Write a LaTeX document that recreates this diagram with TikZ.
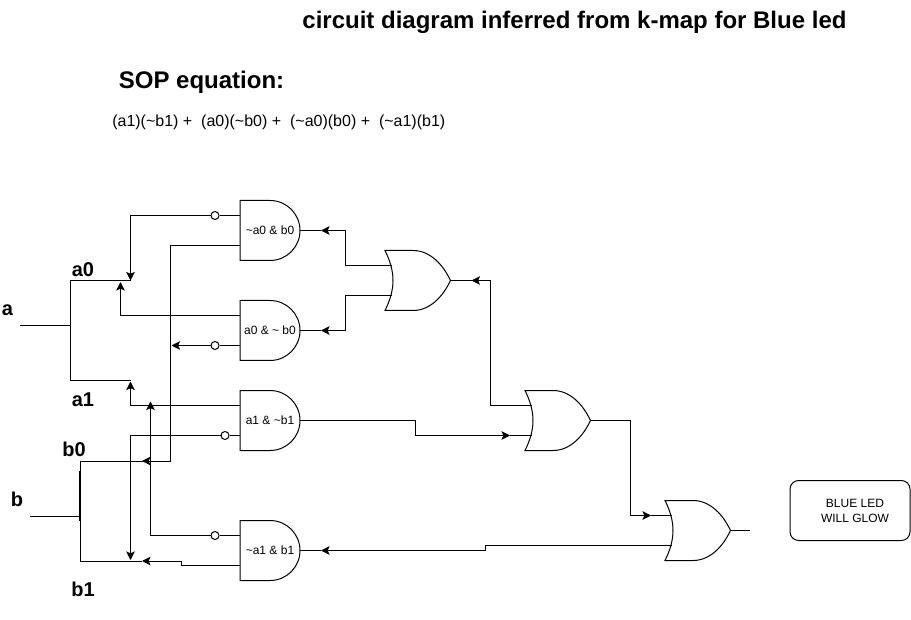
\documentclass[tikz,border=0pt]{standalone}
\usepackage{fontspec}
\setmainfont{Liberation Sans}
\usetikzlibrary{arrows.meta}
\tikzset{
  x=0.75pt,y=-0.75pt,
  wire/.style={draw=black,line width=0.75pt,line join=miter},
  arr/.style={wire,-{Stealth[length=6.4pt,width=6.4pt,inset=1.4pt]}},
  gatebody/.style={draw=black,line width=0.75pt,fill=white},
  bubble/.style={circle,draw=black,line width=0.75pt,fill=white,minimum size=6pt,inner sep=0pt},
  gatetext/.style={font=\fontsize{9pt}{10pt}\selectfont,inner sep=0pt},
  lbl/.style={font=\fontsize{15pt}{18pt}\selectfont\bfseries,inner sep=0pt},
  led/.style={draw=black,line width=0.75pt,rounded corners=6.5pt,minimum width=90pt,minimum height=45pt,inner sep=0pt}
}
% AND gate: name, left x, top y, text
\newcommand{\andgate}[4]{%
  \path[gatebody] (#2,#3) -- ++(30,0) .. controls +(16.6,0) and +(0,-16.6) .. ++(30,30)
    .. controls +(0,16.6) and +(16.6,0) .. ++(-30,30) -- ++(-30,0) -- cycle;
  \node[gatetext] (#1) at (#2+30,#3+30) {#4};
  \coordinate (#1-a) at (#2,#3+15);
  \coordinate (#1-b) at (#2,#3+45);
  \coordinate (#1-o) at (#2+60,#3+30);
}
% OR gate: name, left x, top y
\newcommand{\orgate}[3]{%
  \path[gatebody] (#2,#3) -- ++(28,0) .. controls +(17,0) and +(-7.5,-16) .. ++(37.5,30)
    .. controls +(-7.5,16) and +(17,0) .. ++(-37.5,30) -- ++(-28,0)
    .. controls +(5,-10) and +(0,10) .. ++(8,-30) .. controls +(0,-10) and +(5,10) .. ++(-8,-30) -- cycle;
  \coordinate (#1-a) at (#2+7,#3+15);
  \coordinate (#1-b) at (#2+7,#3+45);
  \coordinate (#1-o) at (#2+65.5,#3+30);
}
\begin{document}
\begin{tikzpicture}
\useasboundingbox (0,-0.5) rectangle (911,619.5);
\fill[white] (0,-0.5) rectangle (911,619.5);

\node[font=\fontsize{18pt}{20pt}\selectfont\bfseries,inner sep=0pt] (title) at (574.5,21.5) {circuit diagram inferred from k-map for Blue led};
\node[font=\fontsize{18pt}{20pt}\selectfont\bfseries,inner sep=0pt] (sop) at (201.5,81.5) {SOP equation:};
\node[font=\fontsize{12pt}{14pt}\selectfont,inner sep=0pt] (eq) at (278.8,121.5) {(a1)(\textasciitilde b1) +\ \ (a0)(\textasciitilde b0) +\ \ (\textasciitilde a0)(b0) +\ \ (\textasciitilde a1)(b1)};

\andgate{A1}{240}{200}{\textasciitilde a0 \& b0}
\andgate{A2}{240}{300}{a0 \& \textasciitilde\ b0}
\andgate{A3}{240}{390}{a1 \& \textasciitilde b1}
\andgate{A4}{240}{520}{\textasciitilde a1 \& b1}
\orgate{O1}{385}{250}
\orgate{O2}{525}{390}
\orgate{O3}{665}{500}

\node[bubble] (n1) at (215,215) {};
\node[bubble] (n2) at (215,345) {};
\node[bubble] (n3) at (225,435) {};
\node[bubble] (n4) at (215,535) {};

\node[led] (led) at (850,510) {};
\node[font=\fontsize{9pt}{11.2pt}\selectfont,align=center,inner sep=0pt] (ledtext) at (855,510) {BLUE LED\\WILL GLOW};

\node[lbl] (la) at (7.5,309.5) {a};
\node[lbl] (lb) at (17,498.5) {b};
\node[lbl] (la0) at (83,269) {a0};
\node[lbl] (la1) at (83,399) {a1};
\node[lbl] (lb0) at (74,448.5) {b0};
\node[lbl] (lb1) at (83,588.5) {b1};

% input buses
\coordinate (ain) at (20,325);
\coordinate (ajn) at (70,325);
\coordinate (a0l) at (70,280);
\coordinate (a0r) at (130.5,280);
\coordinate (a1l) at (70,380);
\coordinate (a1r) at (130.5,380);
\coordinate (bin) at (30,515.5);
\coordinate (bjn) at (80,515.5);
\coordinate (b0l) at (80,460.5);
\coordinate (b0r) at (170.5,460.5);
\coordinate (b0t) at (142,460.5);
\coordinate (b1l) at (80,560.5);
\coordinate (b1r) at (181,560.5);
\coordinate (b1t) at (142,560.5);
\draw[wire] (ain) -- (ajn);
\draw[wire] (a0r) -- (a0l) -- (a1l) -- (a1r);
\draw[wire] (bin) -- (bjn);
\draw[wire] (b1t) -- (b1l) -- (b0l) -- (b0t);
\draw[line width=1.2pt] (80,470) -- (80,520);

% AND inputs
\coordinate (t1) at (130.5,280);
\draw[arr] (n1) -- (130.5,215) -- (t1);
\coordinate (t2) at (120.5,281.5);
\draw[arr] (A2-a) -- (120.5,315) -- (t2);
\coordinate (t3) at (171.5,345);
\draw[arr] (n2) -- (t3);
\draw[wire] (A1-b) -- (170.5,245) -- (b0r) -- (b0t);
\draw[arr] (b0r) -- (b0t);
\coordinate (t4) at (130.5,381);
\draw[arr] (A3-a) -- (130.5,405) -- (t4);
\coordinate (t5) at (130.5,559.5);
\draw[arr] (n3) -- (130.5,435) -- (t5);
\coordinate (t6) at (150.5,401);
\draw[arr] (n4) -- (150.5,535) -- (t6);
\draw[arr] (A4-b) -- (181,565) -- (b1r) -- (b1t);
\draw[wire] (A1-a) -- (n1);
\draw[wire] (A2-b) -- (n2);
\draw[wire] (A3-b) -- (n3);
\draw[wire] (A4-a) -- (n4);

% gate outputs
\coordinate (t7) at (321,230);
\draw[arr] (O1-a) -- (345.5,265) -- (345.5,230) -- (t7);
\draw[wire] (t7) -- (A1-o);
\coordinate (t8) at (321,330);
\draw[arr] (O1-b) -- (345.5,295) -- (345.5,330) -- (t8);
\draw[wire] (t8) -- (A2-o);
\coordinate (t9) at (471.5,280);
\draw[arr] (O2-a) -- (490.5,405) -- (490.5,280) -- (t9);
\draw[wire] (t9) -- (O1-o);
\coordinate (t10) at (510,435);
\draw[arr] (A3-o) -- (415.5,420) -- (415.5,435) -- (t10);
\draw[wire] (t10) -- (O2-b);
\coordinate (t11) at (651,515);
\draw[arr] (O2-o) -- (630.5,420) -- (630.5,515) -- (t11);
\draw[wire] (t11) -- (O3-a);
\coordinate (t12) at (321,550);
\draw[arr] (O3-b) -- (485.5,545) -- (485.5,550) -- (t12);
\draw[wire] (t12) -- (A4-o);
\coordinate (out) at (750,530);
\draw[wire] (O3-o) -- (out);
\end{tikzpicture}
\end{document}
